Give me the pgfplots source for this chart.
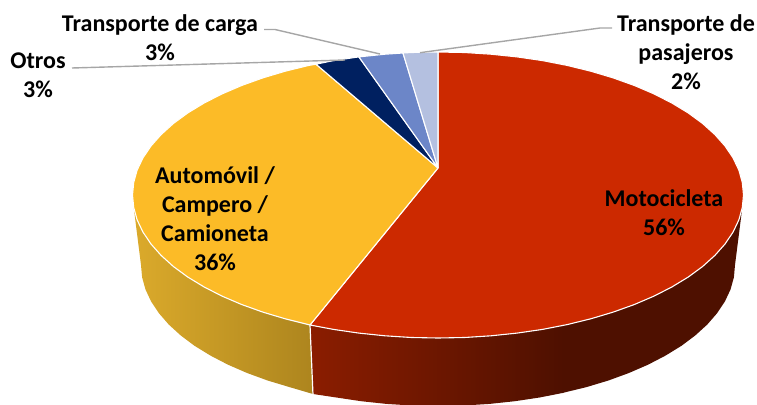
\documentclass[border=0pt]{standalone}
\usepackage{pgfplots}
\pgfplotsset{compat=1.18}
\usepackage{fontspec}
\setmainfont{Carlito}
\definecolor{cRed}{HTML}{CC2900}
\definecolor{cYel}{HTML}{FCBB27}
\definecolor{cNavy}{HTML}{002060}
\definecolor{cBlue}{HTML}{6C86C8}
\definecolor{cLight}{HTML}{B4C0E0}
\definecolor{sRedA}{HTML}{8B1D00}
\definecolor{sRedB}{HTML}{4E1000}
\definecolor{sYelA}{HTML}{DBAA2B}
\definecolor{sYelB}{HTML}{AD851E}
\definecolor{cLead}{HTML}{A6A6A6}
\tikzset{lab/.style={font=\fontsize{24}{29}\selectfont\bfseries, align=center, text=black, inner sep=0pt}}
\begin{document}
\begin{tikzpicture}
\begin{axis}[
  scale only axis, width=757pt, height=404pt,
  xmin=0, xmax=757, ymin=0, ymax=404, y dir=reverse,
  axis lines=none, clip=true,
  at={(0pt,0pt)}, anchor=south west
]
% side: yellow
\addplot[left color=sYelA, right color=sYelB, draw=none] coordinates {
 (133.7,207.5) (141,265) (142.1,277.3) (145.5,289.5) (151.1,301.5) (158.9,313.2) (168.8,324.6)
 (180.8,335.5) (194.7,345.9) (210.5,355.6) (228,364.7) (247.1,373) (267.6,380.5) (289.5,387.1)
 (313,394) (310,325) (285.2,318.8) (262.8,312.1) (241.6,304.5) (222,296.1) (204,286.9) (187.7,277)
 (173.4,266.5) (161.1,255.4) (150.9,243.9) (142.9,232) (137.1,219.8) (133.7,207.5)};
% side: red, flat dark part
\addplot[fill=sRedB, draw=none] coordinates {
 (742.3,207.5) (735,265) (733.9,277.3) (730.5,289.5) (724.9,301.5) (717.1,313.2) (707.2,324.6)
 (695.2,335.5) (681.3,345.9) (665.5,355.6) (648,364.7) (628.9,373) (608.4,380.5) (586.5,387.1)
 (563,392.8) (563,324) (590.8,318.8) (613.2,312.1) (634.4,304.5) (654,296.1) (672,286.9) (688.3,277)
 (702.6,266.5) (714.9,255.4) (725.1,243.9) (733.1,232) (738.9,219.8) (742.3,207.5)};
% side: red, graded part
\addplot[left color=sRedA, right color=sRedB, draw=none] coordinates {
 (310,325) (313,394) (336.4,397.5) (361.1,401.2) (386.4,403.9) (412.1,405.5) (438,406) (463.9,405.5)
 (489.6,403.9) (514.9,401.2) (539.6,397.5) (563.5,392.8) (563.5,324) (542.5,329.4) (517.1,333.1)
 (491,335.8) (464.6,337.5) (438,338) (411.4,337.5) (385,335.8) (358.9,333.1) (333.5,329.4) (310,325)};
% white edge between the side walls
\addplot[draw=white, line width=1.2pt] coordinates {(310,325) (313,395)};
% top: red
\addplot[fill=cRed, draw=white, line width=1.1pt, line join=round] coordinates {
 (438,168) (438,52) (464.6,52.5) (491,54.2) (517.1,56.9) (542.5,60.6) (567.1,65.4) (590.8,71.2)
 (613.2,77.9) (634.4,85.5) (654,93.9) (672,103.1) (688.3,113) (702.6,123.5) (714.9,134.6) (725.1,146.1)
 (733.1,158) (738.9,170.2) (742.3,182.5) (743.5,195) (742.3,207.5) (738.9,219.8) (733.1,232) (725.1,243.9)
 (714.9,255.4) (702.6,266.5) (688.3,277) (672,286.9) (654,296.1) (634.4,304.5) (613.2,312.1) (590.8,318.8)
 (567.1,324.6) (542.5,329.4) (517.1,333.1) (491,335.8) (464.6,337.5) (438,338) (411.4,337.5) (385,335.8)
 (358.9,333.1) (333.5,329.4) (310,325) (438,168)};
% top: yellow
\addplot[fill=cYel, draw=white, line width=1.1pt, line join=round] coordinates {
 (438,168) (310,325) (285.2,318.8) (262.8,312.1) (241.6,304.5) (222,296.1) (204,286.9) (187.7,277)
 (173.4,266.5) (161.1,255.4) (150.9,243.9) (142.9,232) (137.1,219.8) (133.7,207.5) (132.5,195)
 (133.7,182.5) (137.1,170.2) (142.9,158) (150.9,146.1) (161.1,134.6) (173.4,123.5) (187.7,113)
 (204,103.1) (222,93.9) (241.6,85.5) (262.8,77.9) (285.2,71.2) (308.9,65.4) (316,64.2) (438,168)};
% top: navy
\addplot[fill=cNavy, draw=white, line width=1.1pt, line join=round] coordinates {
 (438,168) (316,64.2) (333.5,60.6) (358.9,56.9) (438,168)};
% top: blue
\addplot[fill=cBlue, draw=white, line width=1.1pt, line join=round] coordinates {
 (438,168) (358.9,56.9) (385,54.2) (403,53) (438,168)};
% top: light
\addplot[fill=cLight, draw=white, line width=1.1pt, line join=round] coordinates {
 (438,168) (403,53) (411.4,52.5) (438,52) (438,168)};
% leaders
\addplot[draw=cLead, line width=1.4pt] coordinates {(264,29.5) (275,29.5) (380,54)};
\addplot[draw=cLead, line width=1.4pt] coordinates {(72,68) (345,60)};
\addplot[draw=cLead, line width=1.4pt] coordinates {(612,28) (600,28) (420,52.7)};
% labels
\node[lab] at (axis cs:160,37.5) {Transporte de carga\\3\%};
\node[lab] at (axis cs:38,75.5) {Otros\\3\%};
\node[lab] at (axis cs:686,52.5) {Transporte de\\pasajeros\\2\%};
\node[lab] at (axis cs:215,218.5) {Automóvil /\\Campero /\\Camioneta\\36\%};
\node[lab] at (axis cs:664,213) {Motocicleta\\56\%};
\end{axis}
\pgfresetboundingbox
\path[use as bounding box] (0,0) rectangle (757pt,404pt);
\end{tikzpicture}
\end{document}
